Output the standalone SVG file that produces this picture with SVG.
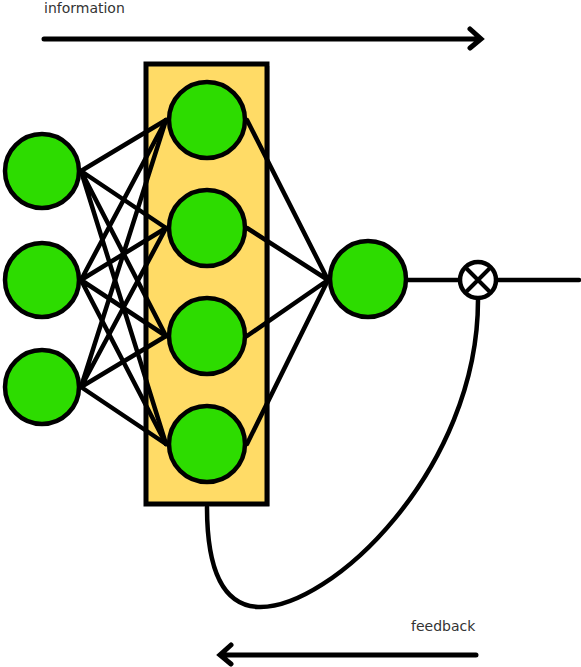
<svg xmlns="http://www.w3.org/2000/svg" width="581" height="667" viewBox="0 0 581 667">
<style>
.n{fill:#2ddc00;stroke:#000;stroke-width:4.5}
.c{stroke:#000;stroke-width:4.5;fill:none;stroke-linecap:round}
.t{font-family:"DejaVu Sans",sans-serif;font-size:14px;fill:#333}
</style>
<rect width="581" height="667" fill="#fff"/>
<g id="layer">
<rect x="149" y="66" width="121" height="440" fill="#c8c8c8"/>
<rect x="146" y="64" width="121" height="440" fill="#ffdb66" stroke="#000" stroke-width="5"/>
</g>
<g id="connectors" class="c">
<path d="M81 171L166 120M81 171L166 228M81 171L166 336M81 171L166 444"/>
<path d="M81 280L166 120M81 280L166 228M81 280L166 336M81 280L166 444"/>
<path d="M81 387L166 120M81 387L166 228M81 387L166 336M81 387L166 444"/>
<path d="M247 120L328 280M247 228L328 280M247 336L328 280M247 444L328 280"/>
<path d="M408 280L458 280M498 280L579 280"/>
<path d="M478 300C478 470 330 610 258 607C218 605 207 560 207 507"/>
<path d="M44 39L480 39M470 29L481 39L470 48" stroke-width="5"/>
<path d="M476 655L221 655M231 645L220 655L231 664" stroke-width="5"/>
</g>
<g id="in1"><circle class="n" cx="42" cy="171" r="37"/></g>
<g id="in2"><circle class="n" cx="42" cy="280" r="37"/></g>
<g id="in3"><circle class="n" cx="42" cy="387" r="37"/></g>
<g id="h1"><circle class="n" cx="207" cy="120" r="38"/></g>
<g id="h2"><circle class="n" cx="207" cy="228" r="38"/></g>
<g id="h3"><circle class="n" cx="207" cy="336" r="38"/></g>
<g id="h4"><circle class="n" cx="207" cy="444" r="38"/></g>
<g id="out"><circle class="n" cx="368" cy="279" r="38"/></g>
<g id="mult">
<circle cx="478" cy="280" r="18" fill="#fff" stroke="#000" stroke-width="4.5"/>
<path d="M466 268L490 292M490 268L466 292" stroke="#000" stroke-width="4"/>
</g>
<text class="t" x="44" y="13">information</text>
<text class="t" x="411" y="631">feedback</text>
</svg>
